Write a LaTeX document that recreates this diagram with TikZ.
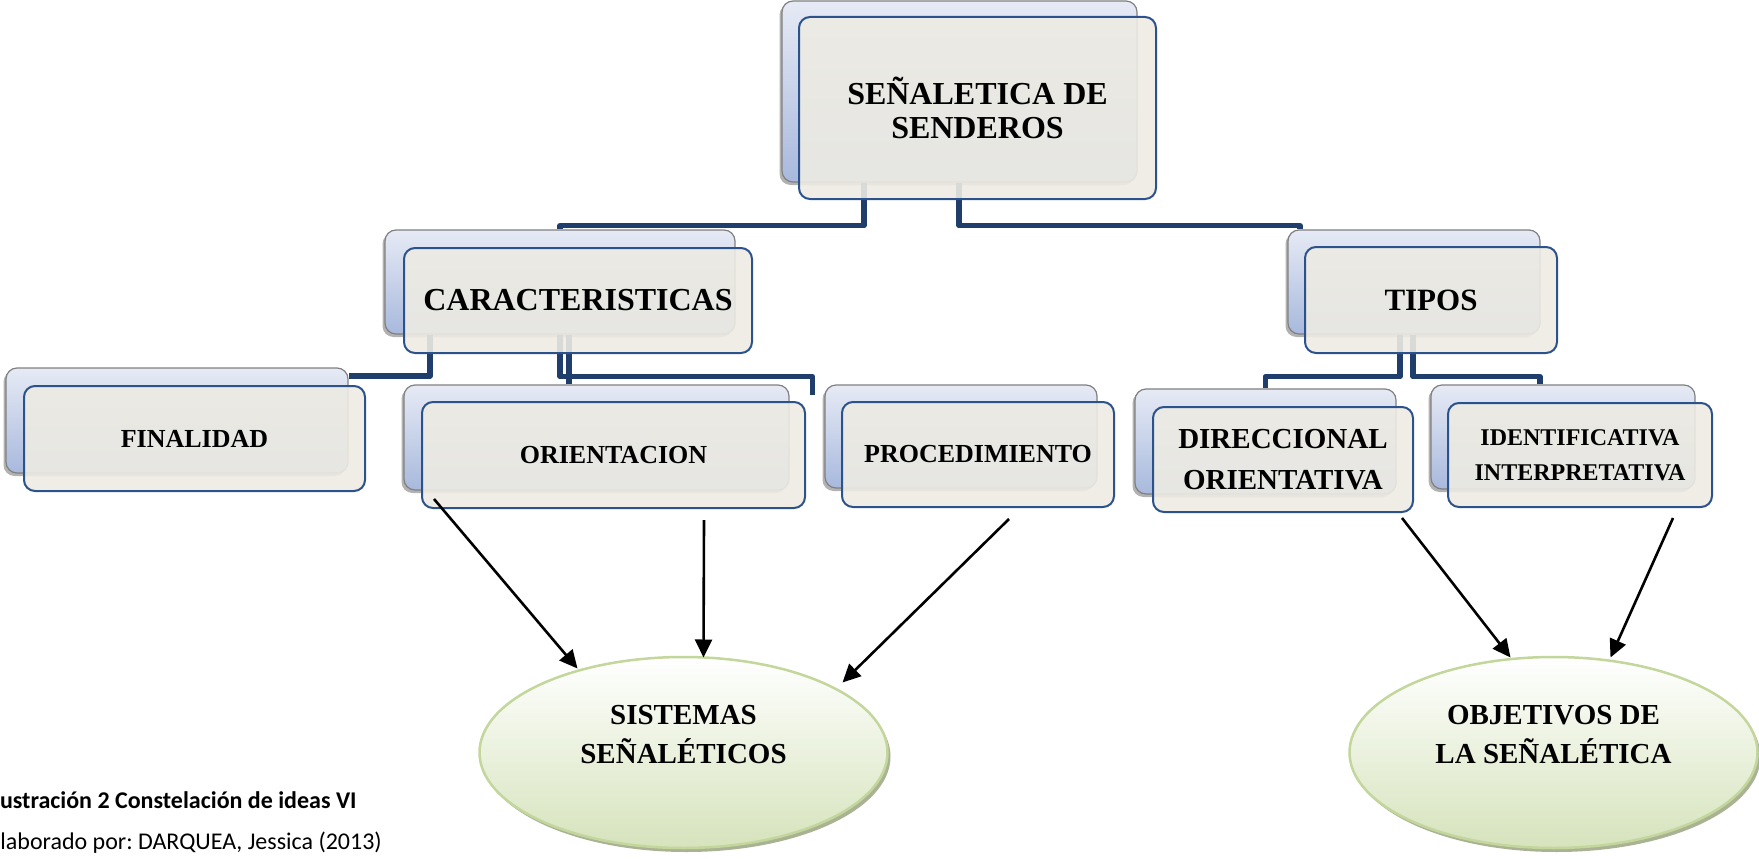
\documentclass[tikz,border=0pt]{standalone}
\usepackage{fontspec}
\setmainfont{Liberation Serif}
\newfontfamily\capfont{Carlito}
\usetikzlibrary{shapes.geometric,arrows.meta,shadows}
\frenchspacing
\definecolor{navy}{RGB}{31,62,107}
\definecolor{fborder}{RGB}{44,82,140}
\definecolor{ffill}{RGB}{237,235,227}
\definecolor{btop}{RGB}{230,234,245}
\definecolor{bbot}{RGB}{168,185,221}
\definecolor{bborder}{RGB}{128,128,128}
\definecolor{etop}{RGB}{255,255,255}
\definecolor{ebot}{RGB}{214,227,188}
\definecolor{eborder}{RGB}{195,214,155}
\definecolor{eshadow}{RGB}{160,170,135}
\tikzset{
 backbox/.style={rectangle, rounded corners=11pt, draw=bborder, line width=1.2pt,
   top color=btop, bottom color=bbot,
   drop shadow={shadow xshift=-2.5pt, shadow yshift=-3pt, opacity=0.3, fill=black},
   inner sep=0pt},
 frontbox/.style={rectangle, rounded corners=11pt, draw=fborder, line width=2pt,
   fill=ffill, fill opacity=0.9, text opacity=1, align=center, inner sep=0pt},
 conn/.style={draw=navy, line width=5.5pt, line join=round},
 arr/.style={draw=black, line width=2.6pt, -{Triangle[length=18pt, width=17pt]}},
 oval/.style={ellipse, draw=eborder, line width=2.5pt, top color=etop, bottom color=ebot,
   drop shadow={shadow xshift=3pt, shadow yshift=-4pt, fill=eshadow, opacity=0.9},
   inner sep=0pt},
 ovaltext/.style={font=\bfseries\fontsize{29}{39}\selectfont, align=center, yshift=18pt},
}
\begin{document}
\begin{tikzpicture}[x=1pt,y=-1pt]
\useasboundingbox (0,0) rectangle (1759,859);
% back boxes
\node[backbox, minimum width=355pt, minimum height=181pt] (rootb) at (959.5,91.5) {};
\node[backbox, minimum width=350pt, minimum height=104pt] (carb) at (560,282) {};
\node[backbox, minimum width=342pt, minimum height=105pt] (finb) at (177,420.5) {};
\node[backbox, minimum width=385pt, minimum height=105pt] (orib) at (596.5,437.5) {};
\node[backbox, minimum width=272pt, minimum height=103pt] (prob) at (961,436.5) {};
\node[backbox, minimum width=252pt, minimum height=104pt] (tipb) at (1414,282) {};
\node[backbox, minimum width=261pt, minimum height=105pt] (dirb) at (1265.5,441.5) {};
\node[backbox, minimum width=264pt, minimum height=104pt] (ideb) at (1563,437) {};
% connectors
\draw[conn] ([xshift=-95.5pt]rootb.south) -- ++(0,43) -| (carb.north);
\draw[conn] ([xshift=-0.5pt]rootb.south) -- ++(0,43) -| ([xshift=-114pt]tipb.north);
\draw[conn] ([xshift=-130pt]carb.south) |- ([yshift=44.5pt]finb.east);
\draw[conn] (carb.south) -- ++(0,42) -| ([xshift=-12pt,yshift=41.5pt]prob.west);
\draw[conn] ([xshift=9pt]carb.south) -- ([xshift=-27.5pt]orib.north);
\draw[conn] ([xshift=-14pt]tipb.south) -- ++(0,42) -| (dirb.north);
\draw[conn] ([xshift=-1pt]tipb.south) -- ++(0,42) -| ([xshift=-23pt]ideb.north);
% front boxes
\node[frontbox, minimum width=357pt, minimum height=182pt, font=\bfseries\fontsize{32}{34}\selectfont] (rootf) at (977.5,108) {SEÑALETICA DE\\SENDEROS};
\node[frontbox, minimum width=348pt, minimum height=105pt, font=\bfseries\fontsize{32}{36}\selectfont] (carf) at (578,300.5) {CARACTERISTICAS};
\node[frontbox, minimum width=341pt, minimum height=105pt, font=\bfseries\fontsize{26}{30}\selectfont] (finf) at (194.5,438.5) {FINALIDAD};
\node[frontbox, minimum width=383pt, minimum height=106pt, font=\bfseries\fontsize{26}{30}\selectfont] (orif) at (613.5,455) {ORIENTACION};
\node[frontbox, minimum width=272pt, minimum height=105pt, font=\bfseries\fontsize{26}{30}\selectfont] (prof) at (978,454.5) {PROCEDIMIENTO};
\node[frontbox, minimum width=252pt, minimum height=106pt, font=\bfseries\fontsize{31}{35}\selectfont] (tipf) at (1431,300) {TIPOS};
\node[frontbox, minimum width=260pt, minimum height=105pt, font=\bfseries\fontsize{29}{41}\selectfont] (dirf) at (1283,459.5) {DIRECCIONAL\\ORIENTATIVA};
\node[frontbox, minimum width=264pt, minimum height=104pt, font=\bfseries\fontsize{24}{35}\selectfont] (idef) at (1580,455) {IDENTIFICATIVA\\INTERPRETATIVA};
% ellipses
\node[oval, minimum width=408pt, minimum height=191pt,
  label={[ovaltext]center:{SISTEMAS\\SEÑALÉTICOS}}] (sist) at (683.5,752.5) {};
\node[oval, minimum width=408pt, minimum height=191pt,
  label={[ovaltext]center:{OBJETIVOS DE\\LA SEÑALÉTICA}}] (obj) at (1553.5,752.5) {};
% arrows
\draw[arr] ([xshift=13pt,yshift=10pt]orif.south west) -- ([xshift=-106pt,yshift=84pt]sist.center);
\draw[arr] ([xshift=90.5pt,yshift=-11pt]orif.south) -- ([xshift=20pt,yshift=95pt]sist.center);
\draw[arr] ([xshift=31pt,yshift=-11pt]prof.south) -- ([xshift=159pt,yshift=70pt]sist.center);
\draw[arr] ([xshift=119pt,yshift=-5pt]dirf.south) -- ([xshift=-43pt,yshift=95pt]obj.center);
\draw[arr] ([xshift=93pt,yshift=-10pt]idef.south) -- ([xshift=57pt,yshift=95pt]obj.center);
% caption
\node[anchor=base west, inner sep=0pt, font=\capfont\bfseries\fontsize{24}{28}\selectfont] (cap1) at (-12.5,808) {Ilustración 2 Constelación de ideas VI};
\node[anchor=base west, inner sep=0pt, font=\capfont\fontsize{24}{28}\selectfont] (cap2) at (-11.5,849) {Elaborado por: DARQUEA, Jessica (2013)};
\end{tikzpicture}
\end{document}
